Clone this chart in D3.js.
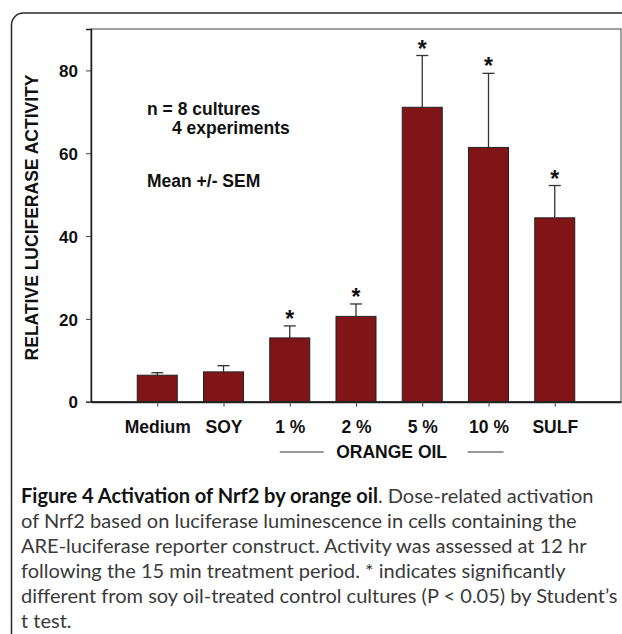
<html>
<script src="https://d3js.org/d3.v7.min.js"></script>
<style>
    body { margin: 0; background: #fff; }
    .lbl { font-family: "Liberation Sans", Arial, sans-serif; font-weight: bold; fill: #111; }
    .cap { font-family: Lato, "Open Sans", sans-serif; fill: #3a3a3a; }
</style>
<body>
<div id="chart"></div>
<script>
    // values
    var groups = ["Medium", "SOY", "1 %", "2 %", "5 %", "10 %", "SULF"];
    var means = [6.4, 7.2, 15.4, 20.6, 71.1, 61.4, 44.4];
    var sems = [0.6, 1.5, 2.9, 3.0, 12.5, 17.9, 7.8];
    var signif = [false, false, true, true, true, true, true];
    var yTicks = [0, 20, 40, 60, 80];
    var notes = ["n = 8 cultures", "4 experiments", "Mean +/- SEM"];
    var captionBold = "Figure 4 Activation of Nrf2 by orange oil";
    var captionLines = [
        ". Dose-related activation",
        "of Nrf2 based on luciferase luminescence in cells containing the",
        "ARE-luciferase reporter construct. Activity was assessed at 12 hr",
        "following the 15 min treatment period. * indicates significantly",
        "different from soy oil-treated control cultures (P < 0.05) by Student\u2019s",
        "t test."
    ];

    var W = 622, H = 634;
    var pLeft = 91, pRight = 621, pTop = 29, pBottom = 401.7;
    var fsz = "17.5px";

    var svg = d3.select("#chart").append("svg")
        .attr("width", W).attr("height", H);

    // outer rounded frame
    svg.append("rect")
        .attr("x", 11.5).attr("y", 13)
        .attr("width", 700).attr("height", 700)
        .attr("rx", 12)
        .attr("fill", "none").attr("stroke", "#2a2a2a").attr("stroke-width", 1.5);

    var x = d3.scalePoint().domain(groups).range([pLeft, pRight]).padding(1);
    var y = d3.scaleLinear().domain([0, 90]).range([pBottom, pTop]);
    var bw = 40;

    // plot frame
    svg.append("rect")
        .attr("x", pLeft).attr("y", pTop)
        .attr("width", pRight - pLeft).attr("height", pBottom - pTop)
        .attr("fill", "none").attr("stroke", "#444").attr("stroke-width", 1);

    // y axis
    var yAxis = svg.append("g")
        .attr("transform", "translate(" + pLeft + ",0)")
        .call(d3.axisLeft(y).tickValues(yTicks).tickSize(5).tickPadding(8));
    yAxis.select(".domain").attr("stroke", "#222").attr("stroke-width", 1.5);
    yAxis.selectAll(".tick line").attr("stroke", "#444");
    yAxis.selectAll(".tick text").attr("class", "lbl").style("font-size", "17px").attr("dy", "0.36em");

    var data = groups.map(function (g, i) {
        return { g: g, m: means[i], s: sems[i], sig: signif[i] };
    });

    // error bars (upper only)
    svg.selectAll(".err").data(data).enter().append("line")
        .attr("x1", function (d) { return x(d.g); })
        .attr("x2", function (d) { return x(d.g); })
        .attr("y1", function (d) { return y(d.m); })
        .attr("y2", function (d) { return y(d.m + d.s); })
        .attr("stroke", "#333").attr("stroke-width", 1.3);
    svg.selectAll(".errcap").data(data).enter().append("line")
        .attr("x1", function (d) { return x(d.g) - 6; })
        .attr("x2", function (d) { return x(d.g) + 6; })
        .attr("y1", function (d) { return y(d.m + d.s); })
        .attr("y2", function (d) { return y(d.m + d.s); })
        .attr("stroke", "#333").attr("stroke-width", 1.3);

    // bars
    svg.selectAll(".bar").data(data).enter().append("rect")
        .attr("x", function (d) { return x(d.g) - bw / 2; })
        .attr("y", function (d) { return y(d.m); })
        .attr("width", bw)
        .attr("height", function (d) { return y(0) - y(d.m); })
        .attr("fill", "#801417")
        .attr("stroke", "#222").attr("stroke-width", 1);

    // x axis
    var xAxis = svg.append("g")
        .attr("transform", "translate(0," + pBottom + ")")
        .call(d3.axisBottom(x).tickSize(5).tickSizeOuter(0).tickPadding(14));
    xAxis.select(".domain").attr("stroke", "#222").attr("stroke-width", 2);
    xAxis.selectAll(".tick line").attr("stroke", "#444");
    xAxis.selectAll(".tick text").attr("class", "lbl").style("font-size", fsz);

    // significance stars
    svg.selectAll(".star").data(data.filter(function (d) { return d.sig; })).enter().append("text")
        .attr("class", "lbl")
        .attr("x", function (d) { return x(d.g); })
        .attr("y", function (d) { return y(d.m + d.s) + 1; })
        .attr("text-anchor", "middle")
        .style("font-size", "23px")
        .text("*");

    // y label
    svg.append("text")
        .attr("class", "lbl")
        .attr("transform", "translate(38," + 217.5 + ") rotate(-90)")
        .attr("text-anchor", "middle")
        .style("font-size", fsz)
        .text("RELATIVE LUCIFERASE ACTIVITY");

    // notes
    svg.append("text").attr("class", "lbl").attr("x", 147).attr("y", 115)
        .style("font-size", fsz).text(notes[0]);
    svg.append("text").attr("class", "lbl").attr("x", 172).attr("y", 134)
        .style("font-size", fsz).text(notes[1]);
    svg.append("text").attr("class", "lbl").attr("x", 147).attr("y", 187)
        .style("font-size", fsz).text(notes[2]);

    // ORANGE OIL group label
    var gx0 = x("1 %") - 10, gx1 = x("10 %") + 15, gmid = (gx0 + gx1) / 2;
    svg.append("text").attr("class", "lbl")
        .attr("x", gmid).attr("y", 458)
        .attr("text-anchor", "middle")
        .style("font-size", fsz).text("ORANGE OIL");
    svg.append("line").attr("x1", gx0).attr("x2", gmid - 68)
        .attr("y1", 452).attr("y2", 452).attr("stroke", "#777").attr("stroke-width", 1.3);
    svg.append("line").attr("x1", gmid + 76).attr("x2", gx1)
        .attr("y1", 452).attr("y2", 452).attr("stroke", "#777").attr("stroke-width", 1.3);

    // caption, font size fitted so the widest lines span the frame width
    var cap = svg.append("g");
    var capX = 21, capY0 = 503, lh = 25, fs = 18, full = 597;
    var rows = [];
    var first = cap.append("text").attr("class", "cap")
        .attr("x", capX).attr("y", capY0).style("font-size", fs + "px");
    first.append("tspan").style("font-weight", "bold").attr("fill", "#111").text(captionBold);
    first.append("tspan").text(captionLines[0]);
    rows.push(first);
    for (var i = 1; i < captionLines.length; i++) {
        rows.push(cap.append("text").attr("class", "cap")
            .attr("x", capX).attr("y", capY0 + i * lh)
            .style("font-size", fs + "px")
            .text(captionLines[i]));
    }
    var widest = d3.max(rows, function (r) { return r.node().getComputedTextLength(); });
    fs = fs * full / widest;
    rows.forEach(function (r) { r.style("font-size", fs + "px"); });
</script>
</body>
</html>
